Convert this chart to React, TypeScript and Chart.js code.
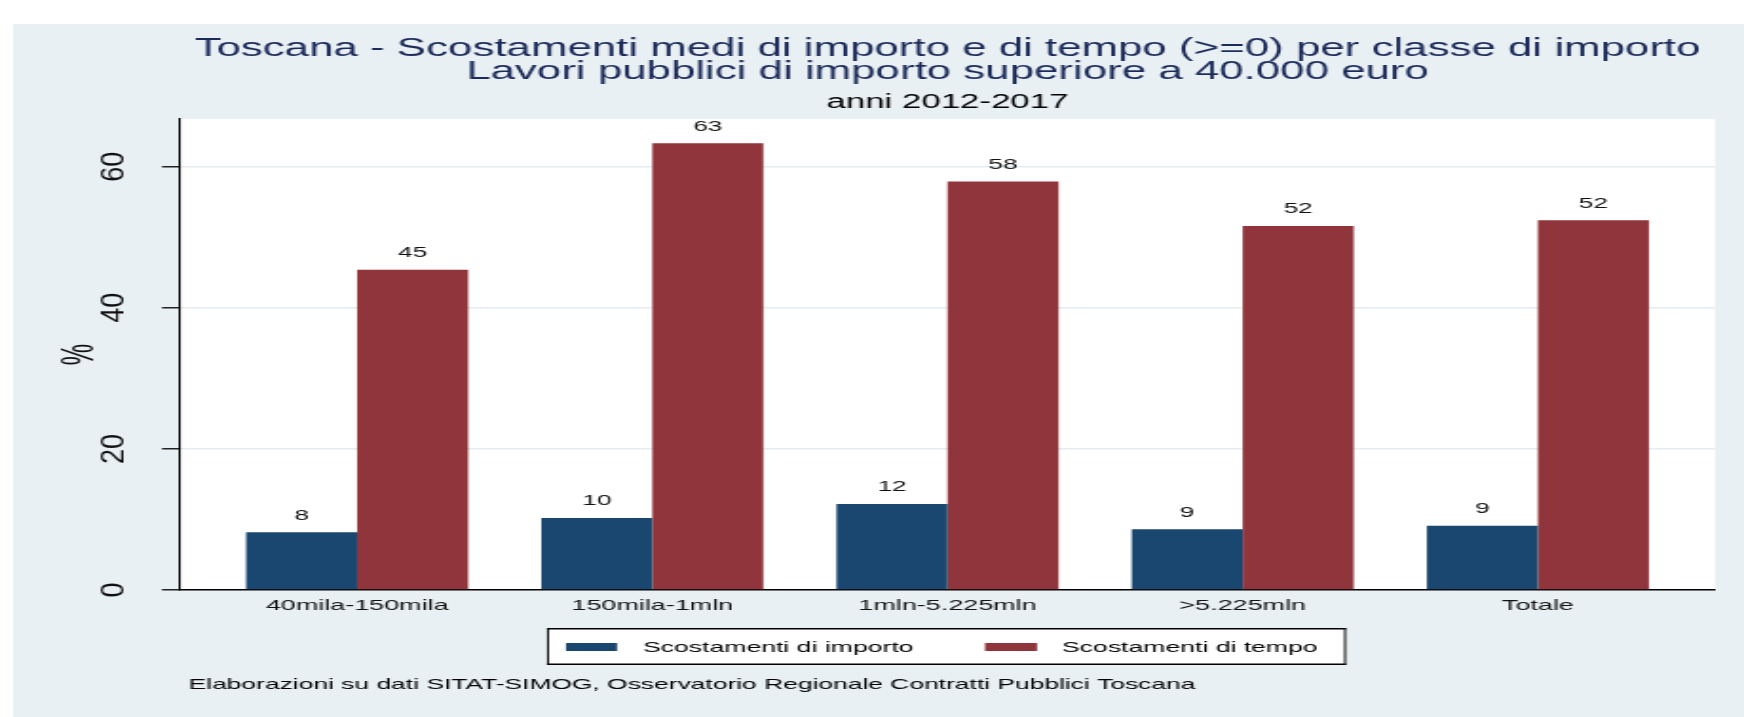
import React, { useEffect, useRef } from "react";
import { Chart, registerables } from "chart.js";

Chart.register(...registerables);

// ---- data ----
const categories = ["40mila-150mila", "150mila-1mln", "1mln-5.225mln", ">5.225mln", "Totale"];
const importoValues = [8.2, 10.2, 12.2, 8.6, 9.1];
const tempoValues = [45.4, 63.3, 57.9, 51.6, 52.4];
const yTickValues = [0, 20, 40, 60];
const seriesNames = ["Scostamenti di importo", "Scostamenti di tempo"];
const titleLines = [
  "Toscana - Scostamenti medi di importo e di tempo (>=0) per classe di importo",
  "Lavori pubblici di importo superiore a 40.000 euro",
];
const subtitleText = "anni 2012-2017";
const noteText = "Elaborazioni su dati SITAT-SIMOG, Osservatorio Regionale Contratti Pubblici Toscana";
const yTitleText = "%";

// ---- layout (canvas is drawn narrow and stretched horizontally like the reference) ----
const SCREEN_W = 1744;
const H = 717;
const W = 918;
const K = SCREEN_W / W;
const sx = (v: number) => v / K;

const FONT = '"Liberation Sans", Arial, Helvetica, sans-serif';
const BG = "#E9F0F3";
const GRID = "#E4ECF0";
const BLUE = "#1A476F";
const RED = "#90353B";
const NAVY = "#1C2B5A";

const AREA_LEFT = sx(180);
const AREA_RIGHT = sx(1715);
const AREA_TOP = 119;
const AREA_BOTTOM = 590;

function drawScaledText(ctx: any, text: string, x: number, y: number, font: string, scaleX: number) {
  ctx.save();
  ctx.translate(x, y);
  ctx.scale(scaleX, 1);
  ctx.font = font;
  ctx.fillText(text, 0, 0);
  ctx.restore();
}

const decorPlugin = {
  id: "decor",
  beforeDraw(chart: any) {
    const { ctx, chartArea } = chart;
    ctx.save();
    ctx.fillStyle = "#ffffff";
    ctx.fillRect(0, 0, W, H);
    ctx.fillStyle = BG;
    ctx.fillRect(sx(13), 24, W, H);
    ctx.fillStyle = "#ffffff";
    ctx.fillRect(chartArea.left, chartArea.top, chartArea.right - chartArea.left, chartArea.bottom - chartArea.top);
    ctx.restore();
  },
  afterDatasetsDraw(chart: any) {
    const { ctx } = chart;
    ctx.save();
    ctx.fillStyle = "#111111";
    ctx.textAlign = "center";
    ctx.textBaseline = "middle";
    chart.data.datasets.forEach((ds: any, di: number) => {
      const meta = chart.getDatasetMeta(di);
      meta.data.forEach((bar: any, i: number) => {
        const v = ds.data[i].y;
        drawScaledText(ctx, String(Math.round(v)), bar.x, bar.y - 16.7, `14.8px ${FONT}`, 0.93);
      });
    });
    ctx.restore();
  },
  afterDraw(chart: any) {
    const { ctx, chartArea } = chart;
    const cx = (chartArea.left + chartArea.right) / 2;
    ctx.save();
    // titles
    ctx.textAlign = "center";
    ctx.textBaseline = "alphabetic";
    ctx.fillStyle = NAVY;
    drawScaledText(ctx, titleLines[0], cx, 55.5, `25.5px ${FONT}`, 0.905);
    drawScaledText(ctx, titleLines[1], cx, 79, `25.5px ${FONT}`, 0.905);
    ctx.fillStyle = "#000000";
    drawScaledText(ctx, subtitleText, cx, 108, `19.5px ${FONT}`, 0.94);

    // y tick labels (rotated)
    const yScale = chart.scales.y;
    ctx.fillStyle = "#111111";
    yTickValues.forEach((v) => {
      const py = yScale.getPixelForValue(v);
      ctx.save();
      ctx.translate(sx(115), py);
      ctx.scale(0.62, 1);
      ctx.rotate(-Math.PI / 2);
      ctx.font = `27px ${FONT}`;
      ctx.textAlign = "center";
      ctx.textBaseline = "middle";
      ctx.fillText(String(v), 0, 0);
      ctx.restore();
    });
    // y title
    ctx.save();
    ctx.translate(sx(80), (chartArea.top + chartArea.bottom) / 2);
    ctx.rotate(-Math.PI / 2);
    ctx.font = `24px ${FONT}`;
    ctx.textAlign = "center";
    ctx.textBaseline = "middle";
    ctx.fillText(yTitleText, 0, 0);
    ctx.restore();

    // legend
    const bx0 = sx(547), bx1 = sx(1346), by0 = 628, by1 = 665;
    ctx.fillStyle = "#ffffff";
    ctx.fillRect(bx0, by0, bx1 - bx0, by1 - by0);
    ctx.fillStyle = "#000000";
    ctx.fillRect(bx0, by0, bx1 - bx0, 1.5);
    ctx.fillRect(bx0, by1 - 1.5, bx1 - bx0, 1.5);
    ctx.fillRect(bx0, by0, 1, by1 - by0);
    ctx.fillRect(bx1 - 1, by0, 1, by1 - by0);
    const items = [
      { sw0: 566, sw1: 617, tx: 643, color: BLUE, label: seriesNames[0] },
      { sw0: 985, sw1: 1037, tx: 1062, color: RED, label: seriesNames[1] },
    ];
    ctx.textAlign = "left";
    ctx.textBaseline = "middle";
    items.forEach((it) => {
      ctx.fillStyle = it.color;
      ctx.fillRect(sx(it.sw0), 643, sx(it.sw1) - sx(it.sw0), 8);
      ctx.fillStyle = "#000000";
      drawScaledText(ctx, it.label, sx(it.tx), 647.5, `15px ${FONT}`, 0.933);
    });

    // note
    ctx.fillStyle = "#000000";
    ctx.textAlign = "left";
    ctx.textBaseline = "middle";
    drawScaledText(ctx, noteText, sx(188.6), 685, `14.6px ${FONT}`, 0.952);
    ctx.restore();
  },
};

export default function App() {
  const canvasRef = useRef<HTMLCanvasElement | null>(null);

  useEffect(() => {
    const canvas = canvasRef.current;
    if (!canvas) return;
    const chart = new Chart(canvas, {
      type: "bar",
      data: {
        datasets: [
          {
            label: seriesNames[0],
            data: importoValues.map((v, i) => ({ x: i, y: v })),
            backgroundColor: BLUE,
            borderWidth: 0,
          },
          {
            label: seriesNames[1],
            data: tempoValues.map((v, i) => ({ x: i, y: v })),
            backgroundColor: RED,
            borderWidth: 0,
          },
        ],
      },
      options: {
        animation: false,
        responsive: false,
        maintainAspectRatio: false,
        devicePixelRatio: 1,
        layout: {
          padding: { left: 0, top: AREA_TOP, right: W - AREA_RIGHT, bottom: 0 },
        },
        datasets: {
          bar: { categoryPercentage: 0.752, barPercentage: 1.0 },
        },
        plugins: {
          legend: { display: false },
          title: { display: false },
          tooltip: { enabled: false },
        },
        scales: {
          x: {
            type: "linear",
            offset: false,
            min: -0.6,
            max: 4.6,
            afterBuildTicks: (scale: any) => {
              scale.ticks = categories.map((_, i) => ({ value: i }));
            },
            afterFit: (scale: any) => {
              scale.height = H - AREA_BOTTOM;
            },
            grid: { display: false, drawTicks: false },
            border: { display: true, color: "#000000", width: 1.5 },
            ticks: {
              padding: 8,
              color: "#111111",
              font: { family: FONT, size: 14.2 },
              maxRotation: 0,
              minRotation: 0,
              autoSkip: false,
              callback: (v: any) => categories[Math.round(Number(v))] ?? "",
            },
          },
          y: {
            type: "linear",
            min: 0,
            max: 66.75,
            afterBuildTicks: (scale: any) => {
              scale.ticks = yTickValues.map((v) => ({ value: v }));
            },
            afterFit: (scale: any) => {
              scale.width = AREA_LEFT;
            },
            grid: {
              display: true,
              drawOnChartArea: true,
              drawTicks: true,
              tickLength: sx(18),
              tickColor: "#222222",
              tickWidth: 1.5,
              lineWidth: 1.5,
              color: (c: any) => (c.tick && c.tick.value === 0 ? "rgba(0,0,0,0)" : GRID),
            },
            border: { display: true, color: "#000000", width: 1.1 },
            ticks: { display: false, stepSize: 20, includeBounds: false },
          },
        },
      },
      plugins: [decorPlugin],
    } as any);
    return () => {
      chart.destroy();
    };
  }, []);

  return (
    <div style={{ position: "fixed", left: 0, top: 0, width: SCREEN_W + "px", height: H + "px", background: "#ffffff" }}>
      <canvas
        ref={canvasRef}
        width={W}
        height={H}
        style={{ width: SCREEN_W + "px", height: H + "px", display: "block" }}
      />
    </div>
  );
}
